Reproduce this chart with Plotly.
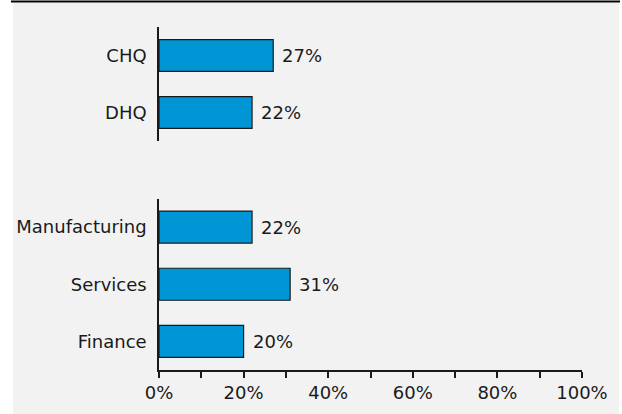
import plotly.graph_objects as go

top_cats = ["CHQ", "DHQ"]
top_vals = [0.27, 0.22]
bot_cats = ["Manufacturing", "Services", "Finance"]
bot_vals = [0.22, 0.31, 0.20]
x_ticks = [0, 0.2, 0.4, 0.6, 0.8, 1.0]
x_tick_labels = ["0%", "20%", "40%", "60%", "80%", "100%"]

BAR = "#0096d6"
FONT = dict(family="Verdana, DejaVu Sans, sans-serif", size=18, color="#1a1a1a")

fig = go.Figure()
fig.add_trace(go.Bar(y=top_cats, x=top_vals, orientation="h", xaxis="x", yaxis="y2",
                     marker=dict(color=BAR, line=dict(color="#1a1a1a", width=1.2)),
                     width=0.56, hoverinfo="skip"))
fig.add_trace(go.Bar(y=bot_cats, x=bot_vals, orientation="h", xaxis="x", yaxis="y",
                     marker=dict(color=BAR, line=dict(color="#1a1a1a", width=1.2)),
                     width=0.56, hoverinfo="skip"))

annotations = []
for cats, vals, yref in ((top_cats, top_vals, "y2"), (bot_cats, bot_vals, "y")):
    for c, v in zip(cats, vals):
        annotations.append(dict(x=v, y=c, xref="x", yref=yref, text=f"{round(v*100)}%",
                                showarrow=False, xanchor="left", xshift=7, font=FONT))

shapes = [
    dict(type="rect", xref="paper", yref="paper", x0=-0.3452, x1=1.0875, y0=-0.1283, y1=1.0700,
         fillcolor="#f2f2f2", line=dict(width=0), layer="below"),
    dict(type="line", xref="paper", yref="paper", x0=-0.3499, x1=1.0898, y0=1.0744, y1=1.0744,
         line=dict(color="#000000", width=2)),
]

fig.update_layout(
    width=622, height=414,
    margin=dict(l=159, r=40, t=27, b=44),
    paper_bgcolor="white", plot_bgcolor="rgba(0,0,0,0)",
    showlegend=False, font=FONT,
    xaxis=dict(range=[0, 1], tickvals=x_ticks, ticktext=x_tick_labels, showgrid=False,
               zeroline=False, showline=True, linecolor="#1a1a1a", linewidth=1.5,
               ticks="outside", ticklen=6, tickwidth=1.5, tickcolor="#1a1a1a",
               automargin=False,
               minor=dict(ticks="outside", ticklen=6, tickwidth=1.5, tickcolor="#1a1a1a",
                          tickvals=[0.1, 0.3, 0.5, 0.7, 0.9]),
               anchor="y", fixedrange=True),
    yaxis=dict(domain=[0, 0.5], autorange="reversed", showgrid=False, zeroline=False,
               showline=True, linecolor="#1a1a1a", linewidth=1.5, ticks="",
               ticklabelstandoff=7, automargin=False, anchor="x", fixedrange=True),
    yaxis2=dict(domain=[0.6676, 1], autorange="reversed", showgrid=False, zeroline=False,
                showline=True, linecolor="#1a1a1a", linewidth=1.5, ticks="",
                ticklabelstandoff=7, automargin=False, anchor="x", fixedrange=True),
    annotations=annotations, shapes=shapes,
)

fig.write_html("out.html", config={"displayModeBar": False},
               post_script="document.body.style.margin='0';document.body.style.overflow='hidden';")
